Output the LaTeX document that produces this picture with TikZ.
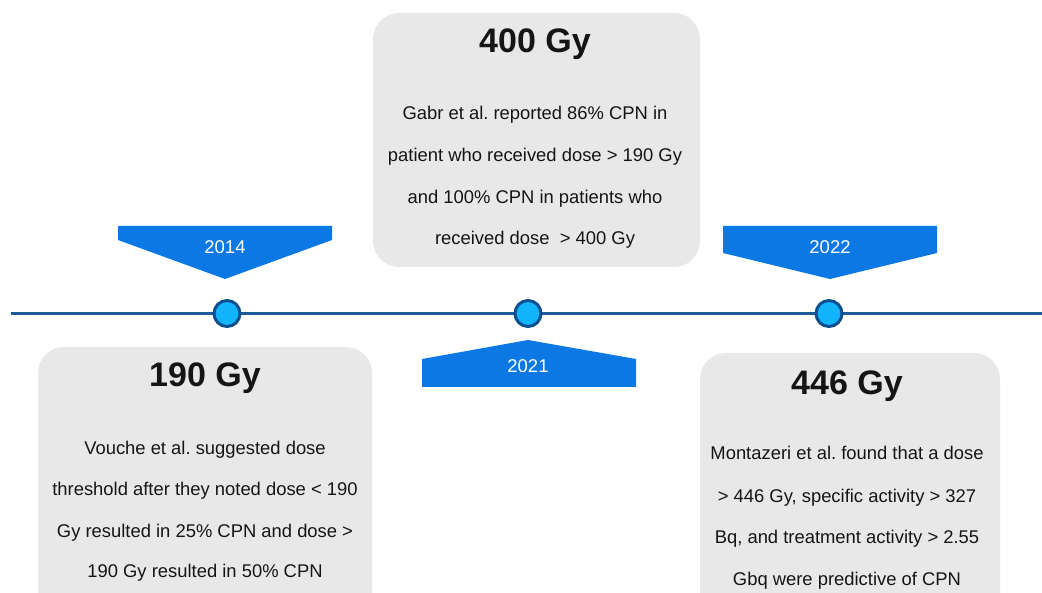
\documentclass[tikz,border=0pt]{standalone}
\usepackage{fontspec}
\setmainfont{Liberation Sans}
\frenchspacing
\definecolor{bannerblue}{HTML}{0B78E3}
\definecolor{lineblue}{HTML}{1B5B99}
\definecolor{dotfill}{HTML}{12B4FB}
\definecolor{dotedge}{HTML}{0D4F8F}
\definecolor{boxgray}{HTML}{E8E8E8}
\definecolor{inkcol}{HTML}{151515}
\tikzset{
  card/.style={fill=boxgray, rounded corners=26pt, draw=none},
  dot/.style={circle, fill=dotfill, draw=dotedge, line width=3pt, minimum size=26pt, inner sep=0pt},
  banner/.style={fill=bannerblue, draw=none},
  yeartxt/.style={text=white, font=\fontsize{18.5}{22}\selectfont, anchor=base, inner sep=0pt},
  titletxt/.style={text=inkcol, font=\bfseries\fontsize{34}{40}\selectfont, anchor=base, inner sep=0pt},
  bodytxt/.style={text=inkcol, font=\fontsize{18.4}{22}\selectfont, anchor=base, inner sep=0pt},
}
\begin{document}
\begin{tikzpicture}[x=1pt,y=-1pt]
\useasboundingbox (0,0) rectangle (1042,593);
\clip (0,0) rectangle (1042,593);
\fill[white] (0,0) rectangle (1042,593);

% cards
\fill[card] (373,13) rectangle (700,267);
\fill[card] (38,347) rectangle (372,640);
\fill[card] (700,353) rectangle (1000,640);

% timeline
\coordinate (lstart) at (11,313.5);
\coordinate (lend) at (1042,313.5);
\draw[lineblue, line width=2.6pt] (lstart) -- (lend);
\node[dot] (d1) at (227,313.5) {};
\node[dot] (d2) at (528,313.5) {};
\node[dot] (d3) at (829,313.5) {};

% banners
\fill[banner] (118,226) -- (332,226) -- (332,240) -- (225,279) -- (118,240) -- cycle;
\fill[banner] (723,226) -- (937,226) -- (937,253) -- (830,279) -- (723,253) -- cycle;
\fill[banner] (528,340) -- (636,359) -- (636,387) -- (422,387) -- (422,359) -- cycle;
\node[yeartxt] (y1) at (225,254) {2014};
\node[yeartxt] (y3) at (830,254) {2022};
\node[yeartxt] (y2) at (528,373) {2021};

% 400 Gy
\node[titletxt] (t2) at (535,53) {400 Gy};
\node[bodytxt] (b21) at (535,120) {Gabr et al. reported 86\% CPN in};
\node[bodytxt] (b22) at (535,162) {patient who received dose > 190 Gy};
\node[bodytxt] (b23) at (535,203.5) {and 100\% CPN in patients who};
\node[bodytxt] (b24) at (535,245) {received dose\ \ > 400 Gy};

% 190 Gy
\node[titletxt] (t1) at (205,387) {190 Gy};
\node[bodytxt] (b11) at (205,455) {Vouche et al. suggested dose};
\node[bodytxt] (b12) at (205,496) {threshold after they noted dose < 190};
\node[bodytxt] (b13) at (205,537) {Gy resulted in 25\% CPN and dose >};
\node[bodytxt] (b14) at (205,577) {190 Gy resulted in 50\% CPN};

% 446 Gy
\node[titletxt] (t3) at (847,395) {446 Gy};
\node[bodytxt] (b31) at (847,460) {Montazeri et al. found that a dose};
\node[bodytxt] (b32) at (847,502) {> 446 Gy, specific activity > 327};
\node[bodytxt] (b33) at (847,543) {Bq, and treatment activity > 2.55};
\node[bodytxt] (b34) at (847,585) {Gbq were predictive of CPN};
\end{tikzpicture}
\end{document}
